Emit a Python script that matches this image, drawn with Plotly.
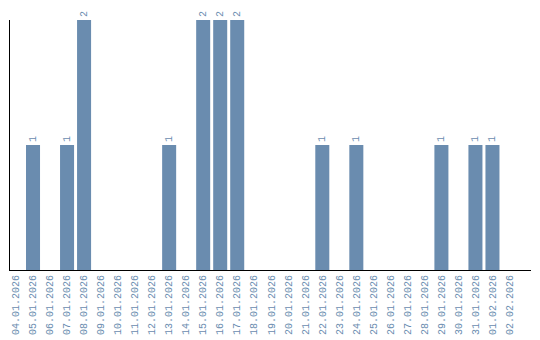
import plotly.graph_objects as go

dates = ["04.01.2026","05.01.2026","06.01.2026","07.01.2026","08.01.2026","09.01.2026",
         "10.01.2026","11.01.2026","12.01.2026","13.01.2026","14.01.2026","15.01.2026",
         "16.01.2026","17.01.2026","18.01.2026","19.01.2026","20.01.2026","21.01.2026",
         "22.01.2026","23.01.2026","24.01.2026","25.01.2026","26.01.2026","27.01.2026",
         "28.01.2026","29.01.2026","30.01.2026","31.01.2026","01.02.2026","02.02.2026"]
counts = [0,1,0,1,2,0,0,0,0,1,0,2,2,2,0,0,0,0,1,0,1,0,0,0,0,1,0,1,1,0]

color = "#6a8caf"
labels = [str(c) if c > 0 else "" for c in counts]

fig = go.Figure(go.Bar(
    x=dates, y=counts, marker_color=color, marker_line_width=0,
    text=labels, textposition="outside", textangle=-90,
    textfont=dict(family="Liberation Mono", size=10, color=color),
    cliponaxis=False,
))
fig.update_layout(
    width=540, height=340,
    margin=dict(l=10, r=9, t=20, b=70, autoexpand=False),
    plot_bgcolor="white", paper_bgcolor="white",
    bargap=0.176, showlegend=False,
    font=dict(family="Liberation Mono", size=10, color=color),
)
fig.update_xaxes(type="category", range=[-0.353, 30.265],
                 showline=True, linecolor="black", linewidth=1,
                 tickangle=-90, showgrid=False, ticks="", automargin=False,
                 tickfont=dict(family="Liberation Mono", size=10, color=color))
fig.update_yaxes(range=[0, 2], showline=True, linecolor="black", linewidth=1,
                 showgrid=False, showticklabels=False, ticks="", zeroline=False)
fig.write_html("out.html")
